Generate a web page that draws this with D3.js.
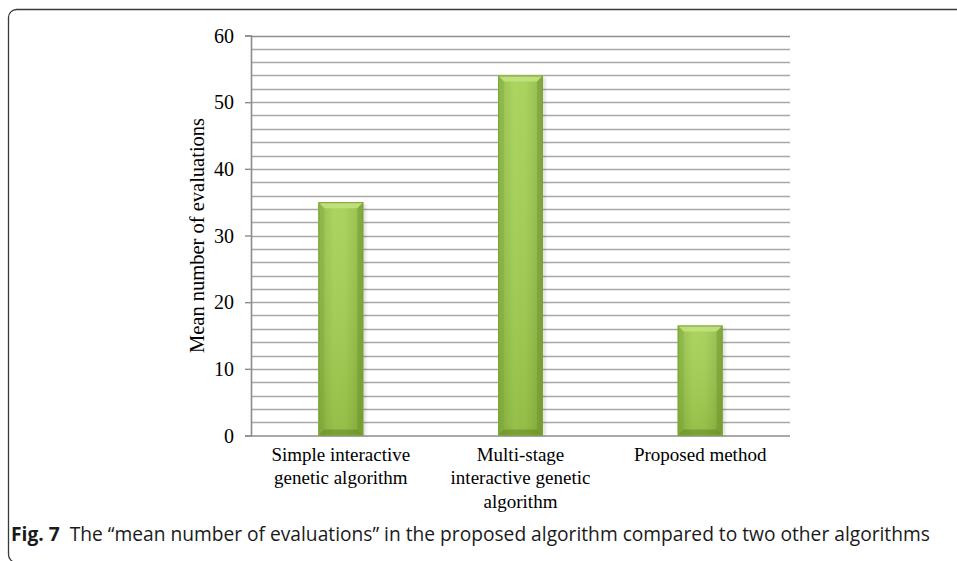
<!DOCTYPE html>
<html>
<head>
<meta charset="utf-8">
<script src="https://cdn.jsdelivr.net/npm/d3@7"></script>
<style>
  html, body { margin: 0; padding: 0; background: #fff; }
  svg { display: block; }
</style>
</head>
<body>
<svg id="chart" width="957" height="561"></svg>
<script>
// Data
const categories = [
  ["Simple interactive", "genetic algorithm"],
  ["Multi-stage", "interactive genetic", "algorithm"],
  ["Proposed method"]
];
const values = [35, 54, 16.5];
const yTicks = [0, 10, 20, 30, 40, 50, 60];
const yTitle = "Mean number of evaluations";
const captionBold = "Fig. 7";
const captionText = "The \u201Cmean number of evaluations\u201D in the proposed algorithm compared to two other algorithms";

const svg = d3.select("#chart");
const serif = "'Liberation Serif', 'Times New Roman', serif";

// Figure frame (rounded, open to the right / bottom)
svg.append("rect")
  .attr("x", 8.5).attr("y", 9.5)
  .attr("width", 1000).attr("height", 553)
  .attr("rx", 8).attr("ry", 8)
  .attr("fill", "none")
  .attr("stroke", "#3a3a3a")
  .attr("stroke-width", 1.3);

const plot = { left: 251, right: 790, top: 35.5, bottom: 435.5 };

const x = d3.scaleBand()
  .domain(d3.range(categories.length))
  .range([plot.left, plot.right])
  .paddingInner(0.75).paddingOuter(0.375);

const y = d3.scaleLinear().domain([0, 60]).range([plot.bottom, plot.top]);

const defs = svg.append("defs");
const grad = defs.append("linearGradient").attr("id", "barGrad")
  .attr("x1", "0%").attr("x2", "100%").attr("y1", "0%").attr("y2", "0%");
grad.append("stop").attr("offset", "0%").attr("stop-color", "#8cb842");
grad.append("stop").attr("offset", "35%").attr("stop-color", "#a5d052");
grad.append("stop").attr("offset", "60%").attr("stop-color", "#a2ce50");
grad.append("stop").attr("offset", "100%").attr("stop-color", "#8ab440");

const vgrad = defs.append("linearGradient").attr("id", "barShade")
  .attr("x1", "0%").attr("x2", "0%").attr("y1", "0%").attr("y2", "100%");
vgrad.append("stop").attr("offset", "0%").attr("stop-color", "#ffffff").attr("stop-opacity", 0.08);
vgrad.append("stop").attr("offset", "100%").attr("stop-color", "#3c5a10").attr("stop-opacity", 0.15);

defs.append("filter").attr("id", "soft").attr("x", "-20%").attr("width", "140%")
  .append("feGaussianBlur").attr("stdDeviation", 1.2);

// Minor + major gridlines every 2 units
const gridVals = d3.range(2, 61, 2);
svg.append("g").selectAll("line").data(gridVals).join("line")
  .attr("x1", plot.left).attr("x2", plot.right)
  .attr("y1", d => Math.round(y(d)) + 0.5).attr("y2", d => Math.round(y(d)) + 0.5)
  .attr("stroke", d => d === 60 ? "#8e8e8e" : "#a8a8a8")
  .attr("stroke-width", 1.4);

// Y axis
const yAxis = d3.axisLeft(y).tickValues(yTicks).tickSize(6).tickPadding(11).tickFormat(d3.format("d"));
const yg = svg.append("g").attr("transform", `translate(${plot.left},0)`).call(yAxis);
yg.select(".domain").attr("stroke", "#8c8c8c").attr("stroke-width", 1.6);
yg.selectAll(".tick line").attr("stroke", "#8c8c8c").attr("stroke-width", 1.4);
yg.selectAll(".tick text")
  .attr("font-family", serif)
  .attr("font-size", 20).attr("fill", "#000").attr("dy", "0.33em");

// X axis baseline
svg.append("line")
  .attr("x1", plot.left).attr("x2", plot.right)
  .attr("y1", y(0) + 0.5).attr("y2", y(0) + 0.5)
  .attr("stroke", "#8c8c8c").attr("stroke-width", 1.6);

// Bars
const bars = svg.append("g").selectAll("g").data(values).join("g");

bars.append("rect")
  .attr("x", (d, i) => x(i) + 3).attr("y", d => y(d) + 2)
  .attr("width", x.bandwidth()).attr("height", d => y(0) - y(d) - 2)
  .attr("fill", "#000").attr("opacity", 0.1).attr("filter", "url(#soft)");

bars.append("rect")
  .attr("x", (d, i) => x(i)).attr("y", d => y(d))
  .attr("width", x.bandwidth()).attr("height", d => y(0) - y(d))
  .attr("fill", "url(#barGrad)");

bars.append("rect")
  .attr("x", (d, i) => x(i)).attr("y", d => y(d))
  .attr("width", x.bandwidth()).attr("height", d => y(0) - y(d))
  .attr("fill", "url(#barShade)");

// Bevel faces
const bev = 6;
function bevel(side) {
  return (d, i) => {
    const x0 = x(i), x1 = x(i) + x.bandwidth(), y0 = y(d), y1 = y(0);
    if (side === "top") return `M${x0},${y0}L${x1},${y0}L${x1 - bev},${y0 + bev}L${x0 + bev},${y0 + bev}Z`;
    if (side === "left") return `M${x0},${y0}L${x0 + bev},${y0 + bev}L${x0 + bev},${y1 - bev}L${x0},${y1}Z`;
    if (side === "right") return `M${x1},${y0}L${x1},${y1}L${x1 - bev},${y1 - bev}L${x1 - bev},${y0 + bev}Z`;
    return `M${x0},${y1}L${x0 + bev},${y1 - bev}L${x1 - bev},${y1 - bev}L${x1},${y1}Z`;
  };
}
bars.append("path").attr("d", bevel("top")).attr("fill", "#c4e382").attr("opacity", 0.85);
bars.append("path").attr("d", bevel("left")).attr("fill", "#6f9a2a").attr("opacity", 0.25);
bars.append("path").attr("d", bevel("right")).attr("fill", "#5e8622").attr("opacity", 0.35);
bars.append("path").attr("d", bevel("bottom")).attr("fill", "#5a7c1e").attr("opacity", 0.45);

bars.append("rect")
  .attr("x", (d, i) => x(i) + 0.5).attr("y", d => y(d) + 0.5)
  .attr("width", x.bandwidth() - 1).attr("height", d => y(0) - y(d) - 1)
  .attr("fill", "none").attr("stroke", "#7ca436").attr("stroke-width", 1);

// Category labels
const lab = svg.append("g").selectAll("text").data(categories).join("text")
  .attr("font-family", serif)
  .attr("font-size", 19).attr("fill", "#000")
  .attr("text-anchor", "middle")
  .attr("x", (d, i) => x(i) + x.bandwidth() / 2)
  .attr("y", 460.5);
lab.selectAll("tspan").data(d => d).join("tspan")
  .attr("x", function () { return d3.select(this.parentNode).attr("x"); })
  .attr("dy", (d, j) => j === 0 ? 0 : 23.7)
  .text(d => d);

// Y title
svg.append("text")
  .attr("transform", `translate(204,${(plot.top + plot.bottom) / 2}) rotate(-90)`)
  .attr("text-anchor", "middle")
  .attr("font-family", serif)
  .attr("font-size", 20.5).attr("fill", "#000")
  .text(yTitle);

// Caption
const cap = svg.append("text")
  .attr("x", 11).attr("y", 541)
  .attr("font-family", "'Open Sans', 'Noto Sans', sans-serif")
  .attr("font-size", 19.2).attr("fill", "#1a1a1a");
cap.append("tspan").attr("font-weight", "bold").text(captionBold);
cap.append("tspan").attr("dx", 10).text(captionText);
</script>
</body>
</html>
